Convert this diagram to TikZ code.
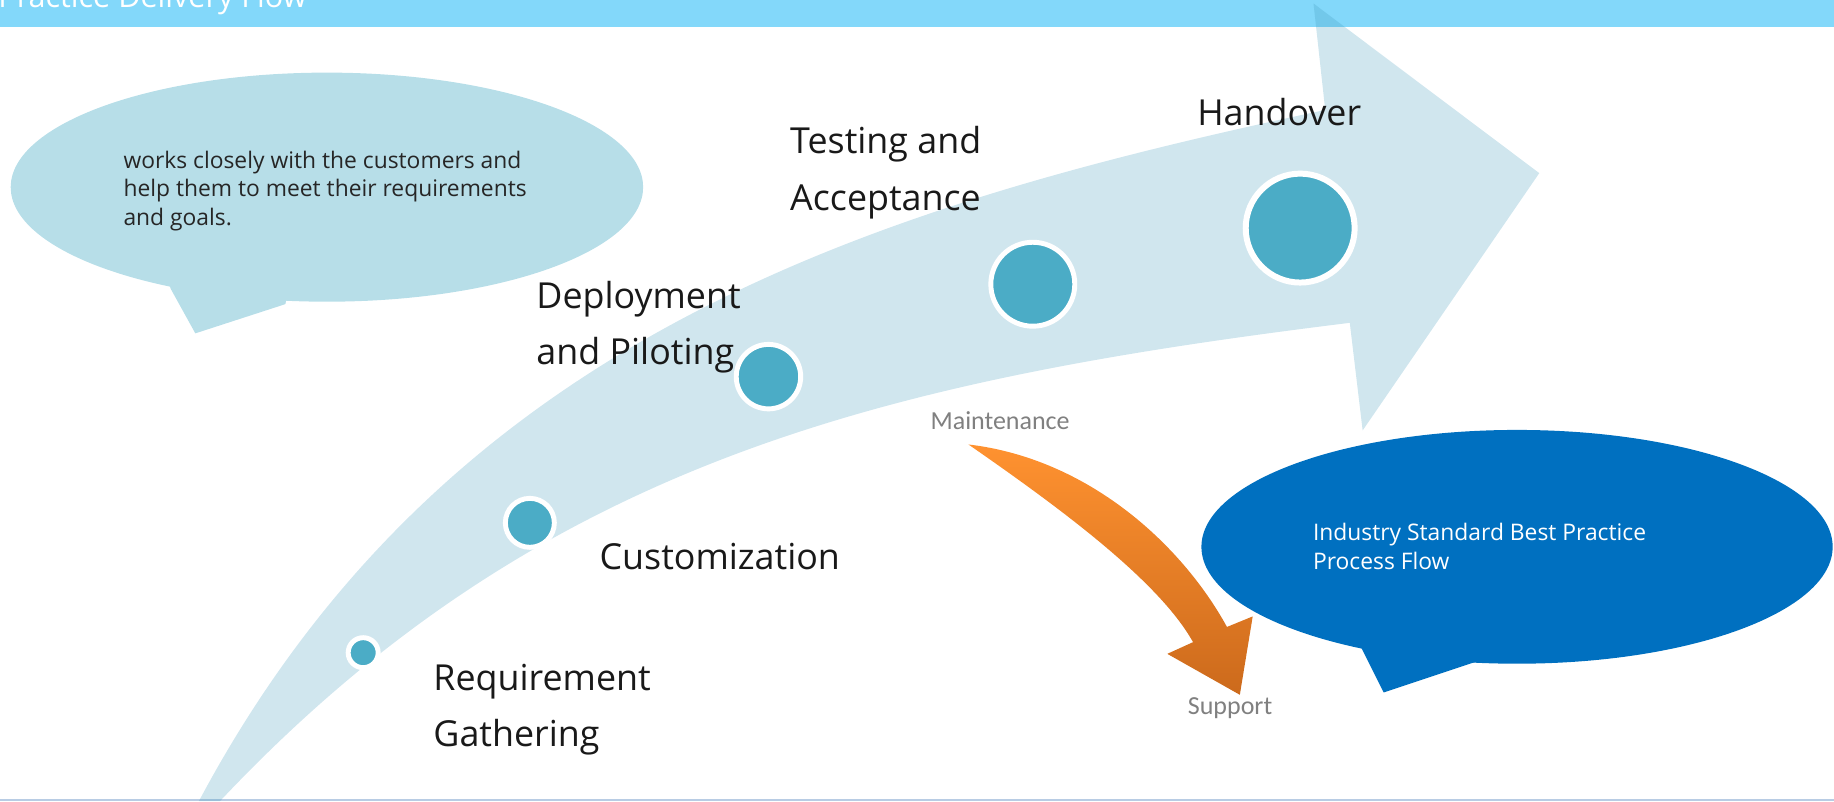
\documentclass[tikz,border=0pt]{standalone}
\usepackage{fontspec}
\setmainfont{Open Sans}
\newfontfamily\calibri{Carlito}
\usetikzlibrary{shapes.geometric}

\definecolor{bandeau}{RGB}{131,216,250}
\definecolor{fleche}{RGB}{60,150,185}
\definecolor{jalon}{RGB}{75,172,198}
\definecolor{bulleclaire}{RGB}{183,222,232}
\definecolor{bullefoncee}{RGB}{0,112,192}
\definecolor{orangeclair}{RGB}{255,146,48}
\definecolor{orangefonce}{RGB}{204,106,28}
\definecolor{gristexte}{RGB}{128,128,128}
\definecolor{filet}{RGB}{184,204,228}

\begin{document}
\begin{tikzpicture}[x=0.011696cm, y=-0.011696cm,
    pt/.style={circle, fill=jalon, draw=white, line width=1.4pt, inner sep=0pt},
    etape/.style={anchor=base west, align=left, inner sep=0pt, text=black!90,
      font=\fontsize{10.2}{16}\selectfont},
    bulle/.style={ellipse, inner sep=0pt},
    txtbulle/.style={anchor=base west, align=left, inner sep=0pt,
      font=\fontsize{6.5}{8.2}\selectfont},
    gris/.style={anchor=base west, inner sep=0pt, text=gristexte,
      font=\calibri\fontsize{7.4}{9}\selectfont}]
    \useasboundingbox (0,0) rectangle (1568,685);
    % bandeau et filet
    \fill[bandeau] (0,0) rectangle (1568,22.8);
    \node[anchor=base west, inner sep=0pt, text=white,
      font=\fontsize{8.7}{10}\selectfont] (titre) at (-2,6) {Practice Delivery Flow};
    \fill[filet] (0,683) rectangle (1568,685);
    % la grande flèche
    \fill[fleche, opacity=.24]
      (170,685) .. controls (381,289) and (742,177) .. (1133,94)
      -- (1123,3) -- (1316,148) -- (1165,368) -- (1154,276)
      .. controls (757,325) and (462,394) .. (188,685) -- cycle;
    % bulles (la base d'un texte sur deux lignes est celle de la dernière)
    \node[bulle, fill=bulleclaire, minimum width=6.328cm, minimum height=2.292cm]
      (bulleG) at (279.5,160) {};
    \fill[bulleclaire] (140,230) -- (146,247) -- (167,285) -- (244,260) -- (250,230) -- cycle;
    \node[txtbulle, text=black!85] (texteG) at (105,193)
      {works closely with the customers and\\help them to meet their requirements\\and goals.};
    \node[bulle, fill=bullefoncee, minimum width=6.316cm, minimum height=2.339cm]
      (bulleD) at (1297,467.5) {};
    \fill[bullefoncee] (1160,540) -- (1164,554) -- (1183,592) -- (1261,566) -- (1265,540) -- cycle;
    \node[txtbulle, text=white] (texteD) at (1122,486.7)
      {Industry Standard Best Practice\\Process Flow};
    % étapes
    \node[etape] (lR) at (370,638) {Requirement\\Gathering};
    \node[etape] (lC) at (512,487) {Customization};
    \node[etape] (lD) at (458,312) {Deployment\\and Piloting};
    \node[etape] (lT) at (675,179.6) {Testing and\\Acceptance};
    \node[etape] (lH) at (1023,107) {Handover};
    % jalons
    \node[pt, minimum size=.30cm] (R) at (310.5,558) {};
    \node[pt, minimum size=.49cm] (C) at (453,447) {};
    \node[pt, minimum size=.645cm] (D) at (657,322) {};
    \node[pt, minimum size=.84cm] (T) at (883,243) {};
    \node[pt, minimum size=1.09cm, line width=1.7pt] (H) at (1111.6,195) {};
    % maintenance vers support
    \node[gris] (maint) at (795,367) {Maintenance};
    \node[gris] (support) at (1015,611) {Support};
    \shade[top color=orangeclair, bottom color=orangefonce]
      (828,380) .. controls (930,392) and (1010,465) .. (1049,536)
      -- (1071,527) -- (1060,594) -- (998,559) -- (1020,549)
      .. controls (990,495) and (900,430) .. (828,380) -- cycle;
\end{tikzpicture}
\end{document}
